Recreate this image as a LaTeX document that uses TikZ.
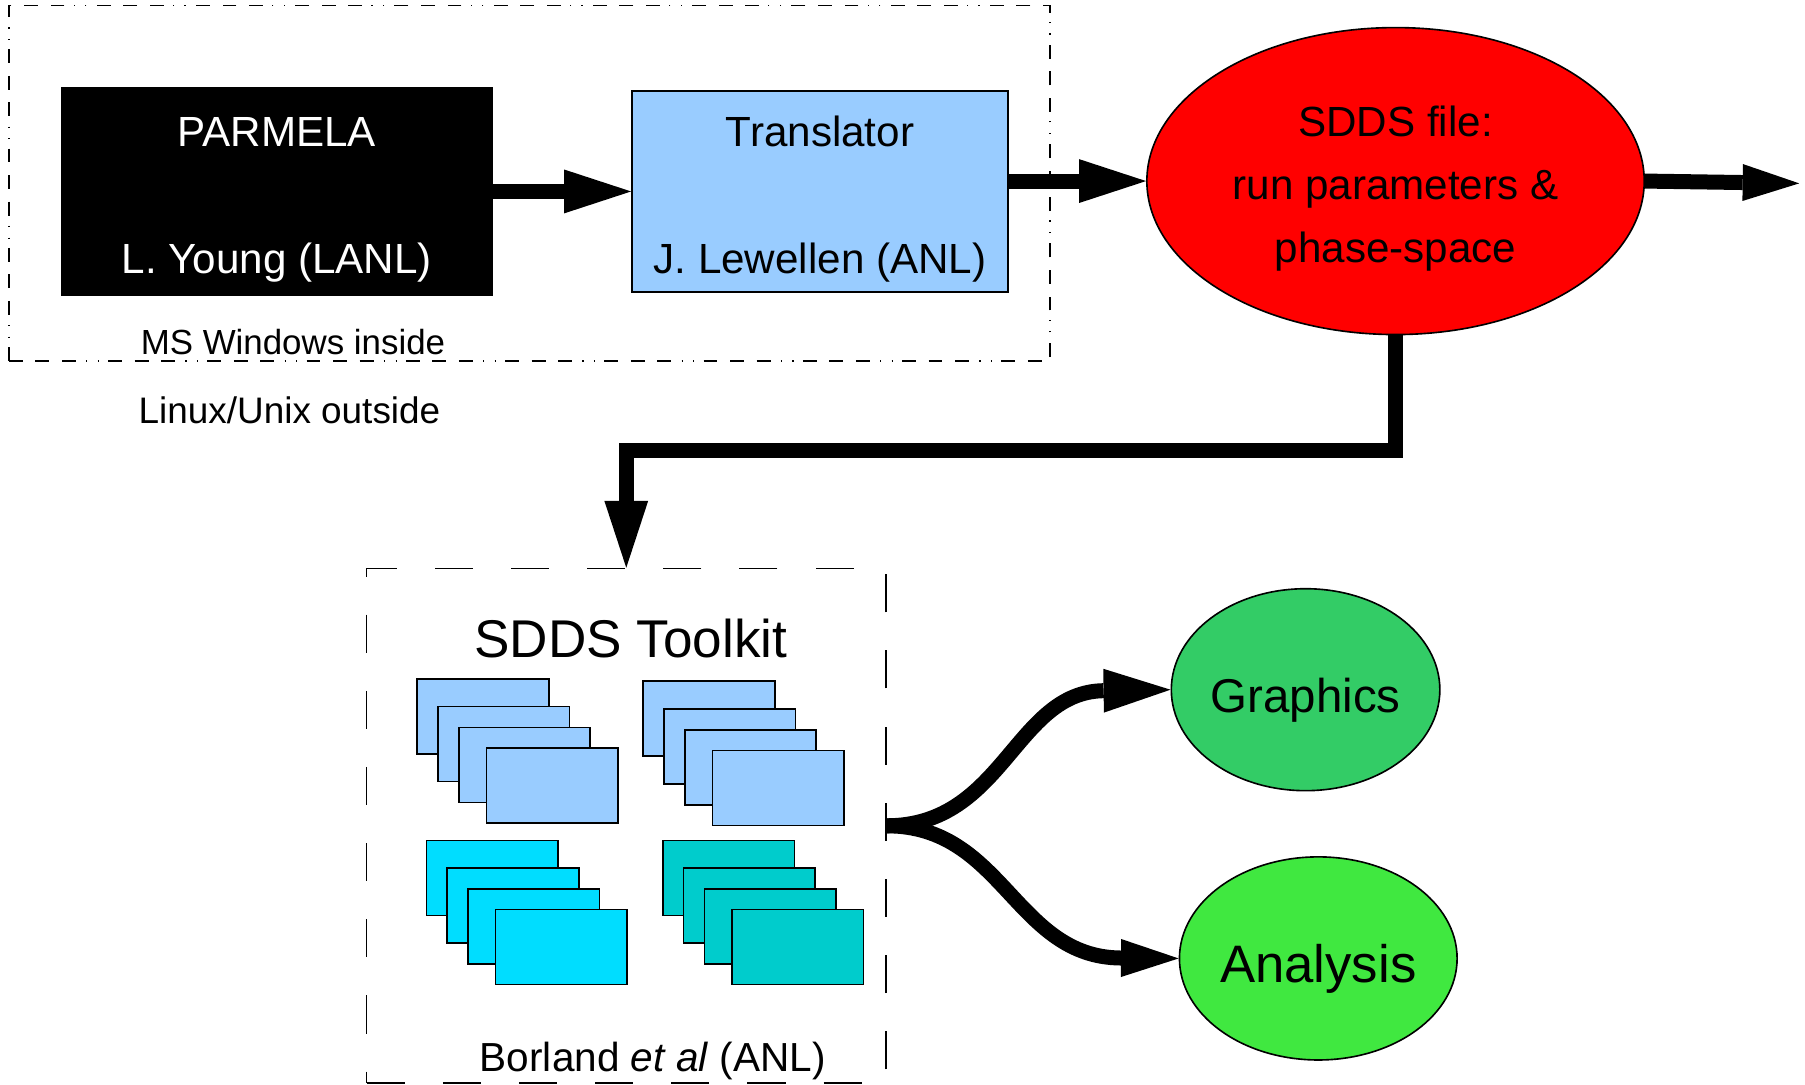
\documentclass[tikz,border=0pt]{standalone}
\usepackage{xcolor}
\usepackage{fontspec}
\setmainfont{Liberation Sans}
\usetikzlibrary{arrows.meta, shapes.geometric}

\definecolor{paleblue}{HTML}{99CCFF}
\definecolor{skyblue}{HTML}{00DDFF}
\definecolor{tealblue}{HTML}{00CCCC}
\definecolor{filegreen}{HTML}{33CC66}
\definecolor{brightgreen}{HTML}{40E840}

\begin{document}
\begin{tikzpicture}[->,
				>={Triangle[length=0.58cm, width=0.38cm, line width=0pt]},
				line width=0.13cm,
				x=0.01cm, y=-0.01cm,
				blockbox/.style={rectangle, draw, line width=0.4pt, inner sep=0pt, align=center,
					font=\fontsize{10.4}{31.2}\selectfont, text height=41pt, text depth=0.6pt},
				sheet/.style={rectangle, draw, line width=0.4pt, anchor=north west, inner sep=0pt,
					minimum width=1.14cm, minimum height=0.65cm},
				blob/.style={ellipse, draw, line width=0.4pt, inner sep=0pt},
				dashdotbox/.style={rectangle, draw, line width=0.35pt, inner sep=0pt,
					dash pattern=on 0.12cm off 0.11cm on 0.12cm off 0.11cm on 0.12cm off 0.09cm on 0.01cm off 0.09cm on 0.01cm off 0.08cm},
				dashbox/.style={rectangle, draw, line width=0.35pt, inner sep=0pt, dash pattern=on 0.33cm off 0.33cm},
				caption/.style={anchor=base, inner sep=0pt}]
				\useasboundingbox (0,0) rectangle (1565,940);
				\node at (459,159) (windows) [dashdotbox, minimum width=9.02cm, minimum height=3.08cm] {};
				\node at (543,716) (toolkit) [dashbox, minimum width=4.5cm, minimum height=4.46cm] {};
				\node at (240,166) (parmela) [blockbox, fill=black, minimum width=3.73cm, minimum height=1.80cm] {\textcolor{white}{PARMELA}\\\textcolor{white}{L. Young (LANL)}};
				\node at (711,166) (translator) [blockbox, fill=paleblue, minimum width=3.26cm, minimum height=1.74cm] {Translator\\J. Lewellen (ANL)};
				\node at (1210,157) (sdds) [blob, fill=red, minimum width=4.31cm, minimum height=2.66cm, align=center,
					font=\fontsize{10.4}{15.5}\selectfont, text height=40pt, text depth=0pt] {SDDS file:\\run parameters \&\\phase-space};
				\node at (1132,598) (graphics) [blob, fill=filegreen, minimum width=2.26cm, minimum height=1.75cm,
					font=\fontsize{11.7}{14}\selectfont, text height=11.4pt, text depth=0pt] {Graphics};
				\node at (1143,831) (analysis) [blob, fill=brightgreen, minimum width=2.26cm, minimum height=1.76cm,
					font=\fontsize{13}{15}\selectfont, text height=12pt, text depth=0pt] {Analysis};
				\node at (254,307) (inside) [caption, font=\fontsize{8.6}{10}\selectfont] {MS Windows inside};
				\node at (251,367) (outside) [caption, font=\fontsize{9.1}{11}\selectfont] {Linux/Unix outside};
				\node at (547,570) (toolkittitle) [caption, font=\fontsize{13.1}{15}\selectfont] {SDDS Toolkit};
				\node at (566,929) (authors) [caption, font=\fontsize{10}{12}\selectfont] {Borland \textit{et al} (ANL)};
				\foreach \dx/\dy [count=\i] in {0/0, 18/24, 36/42, 60/60} {
					\node at (361+\dx,588+\dy) (tl\i) [sheet, fill=paleblue] {};
					\node at (557+\dx,590+\dy) (tr\i) [sheet, fill=paleblue] {};
					\node at (369+\dx,728+\dy) (bl\i) [sheet, fill=skyblue] {};
					\node at (574+\dx,728+\dy) (br\i) [sheet, fill=tealblue] {};
				}
				\coordinate (exit) at (1560,159);
				\coordinate (turn) at (0,391);
				\draw[->, black] (parmela) -- (translator);
				\draw[->, black] (translator.east |- sdds) -- (sdds.west);
				\draw[-{Triangle[length=0.49cm, width=0.32cm, line width=0pt]}, black] (sdds.east) -- (exit);
				\draw[->, black] (sdds.south) -- (sdds.south |- turn) -| (toolkit.north);
				\draw[->, black] (toolkit.east) .. controls (870,716) and (880,600) .. (graphics.west);
				\draw[-{Triangle[length=0.5cm, width=0.33cm, line width=0pt]}, black] (toolkit.east) .. controls (870,716) and (880,830) .. (analysis.west);
			\end{tikzpicture}
\end{document}
